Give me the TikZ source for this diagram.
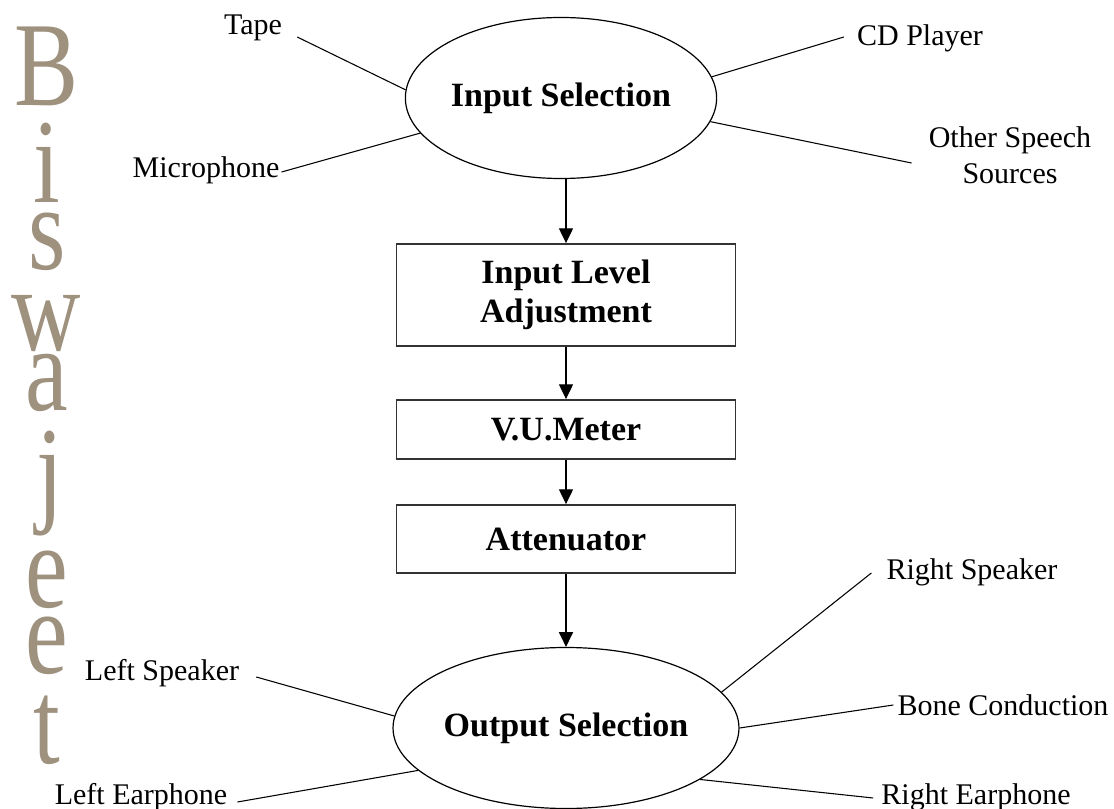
\documentclass[tikz,border=0pt]{standalone}
\usepackage{graphicx}
\usepackage{fontspec}
\setmainfont{Liberation Serif}
\usetikzlibrary{shapes.geometric,arrows.meta}

\definecolor{stone}{RGB}{158,145,126}
\newcommand{\wmletter}[1]{\scalebox{0.8}[1]{#1}}
\newcommand{\stagefont}{\fontsize{25.5}{29.5}\selectfont\bfseries}
\newcommand{\labelfont}{\fontsize{22.5}{27}\selectfont}

\begin{document}
\begin{tikzpicture}[
        x=0.75pt, y=-0.75pt,
        selector/.style={ellipse, draw, line width=0.9pt, minimum width=229.5pt, minimum height=120.75pt, inner sep=0pt, font=\stagefont},
        stage/.style={rectangle, draw=black!80, line width=1.4pt, minimum width=254.25pt, text centered, align=center, inner sep=0pt, font=\stagefont},
        source/.style={inner sep=0pt, font=\labelfont},
        wm/.style={anchor=base, inner sep=0pt, text=stone, font=\fontsize{90}{90}\selectfont},
        link/.style={line width=0.8pt},
        arrow/.style={-{Triangle[width=10.5pt,length=11pt]}, line width=0.8pt}
    ]
\useasboundingbox (0,0) rectangle (1114,809);

% Name down the left side
        \node[wm] (wmb) at (47,106) {\wmletter{B}};
        \node[wm] (wmi) at (47,203) {\wmletter{i}};
        \node[wm] (wms) at (47,270) {\wmletter{s}};
        \node[wm] (wmw) at (46,350) {\wmletter{w}};
        \node[wm] (wma) at (47,410) {\wmletter{a}};
        \node[wm] (wmj) at (50,510) {\wmletter{j}};
        \node[wm] (wme) at (47,607) {\wmletter{e}};
        \node[wm] (wmee) at (47,673) {\wmletter{e}};
        \node[wm] (wmt) at (47,763) {\wmletter{t}};

% Chain
        \node[selector] (insel) at (561,98) {Input Selection};
        \node[stage, minimum height=76.5pt] (adj) at (566,295) {Input Level\\Adjustment};
        \node[stage, minimum height=44.25pt] (vu) at (566,429.5) {V.U.Meter};
        \node[stage, minimum height=51pt] (att) at (566,539) {Attenuator};
        \node[selector] (outsel) at (566,728) {Output Selection};

% Sources
        \node[source] (tape) at (253,28) {Tape};
        \node[source] (cd) at (920,38) {CD Player};
        \node[source] (mic) at (206,170) {Microphone};
        \node[source, align=center] (other) at (1010,155) {Other Speech\\Sources};

% Outputs
        \node[source] (rspk) at (972,572) {Right Speaker};
        \node[source] (bone) at (1003,705) {Bone Conduction};
        \node[source] (rear) at (976,797) {Right Earphone};
        \node[source] (lspk) at (162,673) {Left Speaker};
        \node[source] (lear) at (141,797) {Left Earphone};

% Arrows
        \draw[arrow] (insel.south -| adj.north) -- (adj.north);
        \draw[arrow] (adj) -- (vu);
        \draw[arrow] (vu) -- (att);
        \draw[arrow] (att) -- (outsel);

% Lines to sources and outputs
        \draw[link] (tape.east) ++(15,9) -- (insel.177);
        \draw[link] (mic.east) ++(2,2) -- (insel.194);
        \draw[link] (cd.west) ++(-13,-1) -- (insel.8);
        \draw[link] (other.west) ++(-17,8) -- (insel.351);
        \draw[link] (lspk.east) ++(17,4) -- (outsel.176);
        \draw[link] (lear.east) ++(10,5) -- (outsel.196);
        \draw[link] (rspk.west) ++(-15,1) -- (outsel.13);
        \draw[link] (bone.west) ++(-4,0) -- (outsel.0);
        \draw[link] (rear.west) ++(-8,1) -- (outsel.339);
    \end{tikzpicture}
\end{document}
